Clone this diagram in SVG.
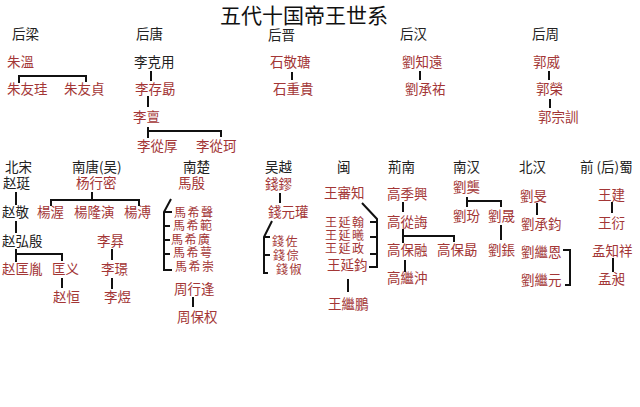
<svg xmlns="http://www.w3.org/2000/svg" width="640" height="407" viewBox="0 0 640 407">
<style>
text{font-family:"Noto Sans CJK SC","Noto Sans CJK TC",sans-serif;font-size:13.5px}
.h{fill:#222}
.r{fill:#a33636}
.k{fill:#222}
.s{font-size:12px;letter-spacing:1.5px}
.t{font-size:21px;fill:#111}
#connectors path{fill:none;stroke:#111;stroke-width:2}
</style>
<rect width="640" height="407" fill="#fff"/>
<g id="title"><text class="t" x="220" y="23">五代十国帝王世系</text></g>
<g id="headers">
<text class="h" x="12" y="39">后梁</text>
<text class="h" x="136" y="39">后唐</text>
<text class="h" x="268" y="40">后晋</text>
<text class="h" x="400" y="39">后汉</text>
<text class="h" x="532" y="39">后周</text>
<text class="h" x="5" y="172">北宋</text>
<text class="h" x="72" y="172">南唐(吴)</text>
<text class="h" x="183" y="172">南楚</text>
<text class="h" x="265" y="172">吴越</text>
<text class="h" x="337" y="172">闽</text>
<text class="h" x="388" y="172">荊南</text>
<text class="h" x="453" y="172">南汉</text>
<text class="h" x="519" y="172">北汉</text>
<text class="h" x="580" y="172">前 (后)蜀</text>
</g>
<g id="houliang">
<text class="r" x="7" y="67">朱溫</text>
<text class="r" x="7" y="94">朱友珪</text>
<text class="r" x="64" y="94">朱友貞</text>
</g>
<g id="houtang">
<text class="k" x="134" y="67">李克用</text>
<text class="r" x="135" y="94">李存勗</text>
<text class="r" x="133" y="122">李亶</text>
<text class="r" x="137" y="151">李從厚</text>
<text class="r" x="196" y="151">李從珂</text>
</g>
<g id="houjin">
<text class="r" x="270" y="67">石敬瑭</text>
<text class="r" x="273" y="94">石重貴</text>
</g>
<g id="houhan">
<text class="r" x="402" y="67">劉知遠</text>
<text class="r" x="405" y="94">劉承祐</text>
</g>
<g id="houzhou">
<text class="r" x="533" y="67">郭威</text>
<text class="r" x="536" y="94">郭榮</text>
<text class="r" x="538" y="122">郭宗訓</text>
</g>
<g id="beisong">
<text class="k" x="3" y="188">赵珽</text>
<text class="k" x="2" y="217">赵敬</text>
<text class="k" x="2" y="246">赵弘殷</text>
<text class="r" x="2" y="274">赵匡胤</text>
<text class="r" x="52" y="274">匡义</text>
<text class="r" x="53" y="302">赵恒</text>
</g>
<g id="nantang">
<text class="r" x="76" y="188">杨行密</text>
<text class="r" x="37" y="217">楊渥</text>
<text class="r" x="74" y="217">楊隆演</text>
<text class="r" x="124" y="217">楊溥</text>
<text class="r" x="97" y="246">李昪</text>
<text class="r" x="101" y="274">李璟</text>
<text class="r" x="104" y="302">李煜</text>
</g>
<g id="nanchu">
<text class="r" x="178" y="188">馬殷</text>
<text class="r s" x="174" y="217">馬希聲</text>
<text class="r s" x="173" y="230">馬希範</text>
<text class="r s" x="171" y="244">馬希廣</text>
<text class="r s" x="173" y="257">馬希萼</text>
<text class="r s" x="175" y="271">馬希崇</text>
<text class="r" x="174" y="294">周行逢</text>
<text class="r" x="177" y="322">周保权</text>
</g>
<g id="wuyue">
<text class="r" x="265" y="189">錢鏐</text>
<text class="r" x="268" y="217">錢元瓘</text>
<text class="r s" x="272" y="246">錢佐</text>
<text class="r s" x="273" y="260">錢倧</text>
<text class="r s" x="276" y="274">錢俶</text>
</g>
<g id="min">
<text class="r" x="324" y="198">王審知</text>
<text class="r s" x="325" y="227">王延翰</text>
<text class="r s" x="325" y="240">王延曦</text>
<text class="r s" x="325" y="253">王延政</text>
<text class="r" x="327" y="270">王延鈞</text>
<text class="r" x="328" y="309">王繼鵬</text>
</g>
<g id="jingnan">
<text class="r" x="387" y="199">高季興</text>
<text class="r" x="387" y="227">高從誨</text>
<text class="r" x="387" y="255">高保融</text>
<text class="r" x="437" y="255">高保勗</text>
<text class="r" x="387" y="283">高繼沖</text>
</g>
<g id="nanhan">
<text class="r" x="453" y="192">劉龑</text>
<text class="r" x="453" y="221">劉玢</text>
<text class="r" x="488" y="221">劉晟</text>
<text class="r" x="488" y="255">劉鋹</text>
</g>
<g id="beihan">
<text class="r" x="520" y="201">劉旻</text>
<text class="r" x="521" y="229">劉承鈞</text>
<text class="r" x="521" y="257">劉繼恩</text>
<text class="r" x="521" y="285">劉繼元</text>
</g>
<g id="shu">
<text class="r" x="598" y="200">王建</text>
<text class="r" x="598" y="228">王衍</text>
<text class="r" x="592" y="256">孟知祥</text>
<text class="r" x="598" y="284">孟昶</text>
</g>
<g id="connectors">
<path d="M19 75V83M19 76H86V82"/>
<path d="M151 71V81"/>
<path d="M148 96V107"/>
<path d="M148 127V138M148 131H221V137"/>
<path d="M292 72V80"/>
<path d="M420 71V80"/>
<path d="M549 71V80"/>
<path d="M550 99V108"/>
<path d="M16 192V205"/>
<path d="M16 221V233"/>
<path d="M16 249V262M16 254H62V261"/>
<path d="M62 278V288"/>
<path d="M92 192V200M51 206V200H139V206"/>
<path d="M112 249V260"/>
<path d="M112 278V289"/>
<path d="M171 199L164 212V270H172M164 212H172M164 226H170M164 240H170M164 254H170"/>
<path d="M193 297V307"/>
<path d="M280 193V203"/>
<path d="M272 221L264 237V273H268M264 237H270M264 255H270"/>
<path d="M362 203L377 219V267H369M370 222H377M370 237H377M370 254H377"/>
<path d="M348 279V292"/>
<path d="M403 202V212"/>
<path d="M403 229V243M403 236H454V242"/>
<path d="M405 260V272"/>
<path d="M467 197V207M467 201H501V207"/>
<path d="M501 225V240"/>
<path d="M537 203V215"/>
<path d="M563 250H570V285H565"/>
<path d="M612 202V213"/>
<path d="M613 258V272"/>
</g>
</svg>
